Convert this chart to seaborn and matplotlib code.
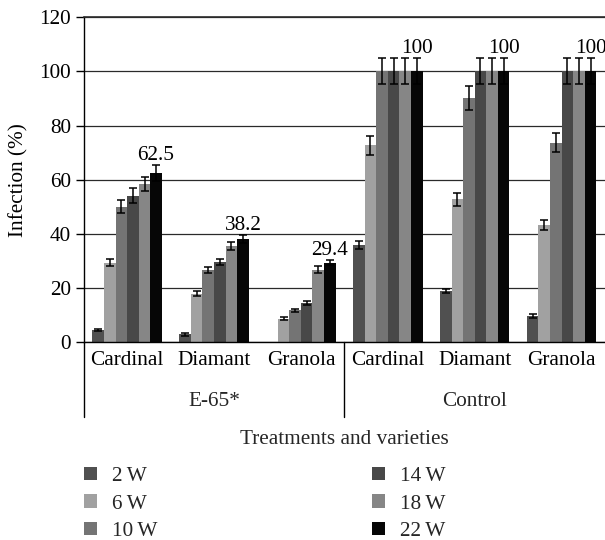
import matplotlib
matplotlib.use("Agg")
import matplotlib.pyplot as plt
import matplotlib.transforms as mtransforms
import seaborn as sns
import pandas as pd

# ---------------- data ----------------
treatments = ["E-65*", "E-65*", "E-65*", "Control", "Control", "Control"]
varieties = ["Cardinal", "Diamant", "Granola", "Cardinal", "Diamant", "Granola"]
weeks = ["2\u2009W", "6\u2009W", "10\u2009W", "14\u2009W", "18\u2009W", "22\u2009W"]

w2 = [4.5, 2.9, 0.0, 35.9, 18.9, 9.7]
w6 = [29.4, 18.0, 8.7, 72.8, 52.9, 43.3]
w10 = [50.0, 26.7, 11.8, 100, 90.2, 73.7]
w14 = [54.2, 29.6, 14.5, 100, 100, 100]
w18 = [58.6, 35.4, 26.8, 100, 100, 100]
w22 = [62.5, 38.2, 29.4, 100, 100, 100]

e2 = [0.4, 0.4, 0.0, 1.5, 0.8, 0.6]
e6 = [1.2, 0.8, 0.5, 3.5, 2.4, 2.0]
e10 = [2.4, 1.0, 0.5, 4.8, 4.5, 3.5]
e14 = [2.6, 1.2, 0.8, 4.8, 4.8, 4.8]
e18 = [2.6, 1.5, 1.2, 4.8, 4.8, 4.8]
e22 = [3.0, 1.5, 1.0, 4.8, 4.8, 4.8]

y_ticks = [0, 20, 40, 60, 80, 100, 120]

series = [w2, w6, w10, w14, w18, w22]
errors = [e2, e6, e10, e14, e18, e22]
colors = ["#505050", "#a1a1a1", "#747474", "#484848", "#868686", "#060606"]

keys = [f"{t}|{v}" for t, v in zip(treatments, varieties)]
rows = []
for wk, vals in zip(weeks, series):
    for k, v in zip(keys, vals):
        rows.append({"group": k, "week": wk, "infection": v})
df = pd.DataFrame(rows)

# ---------------- style ----------------
sns.set_theme(style="white")
plt.rcParams["font.family"] = ["Liberation Serif", "DejaVu Serif"]
FS = 15.3

W, H = 605, 540
fig = plt.figure(figsize=(W / 100, H / 100), dpi=100)
ax_l, ax_r, ax_t, ax_b = 83.7, 605, 17.3, 342.3
ax = fig.add_axes([ax_l / W, (H - ax_b) / H, (ax_r - ax_l) / W, (ax_b - ax_t) / H])

sns.barplot(data=df, x="group", y="infection", hue="week", order=keys,
            hue_order=weeks, palette=colors, width=0.8, saturation=1,
            errorbar=None, ax=ax, linewidth=0)

bar_containers = list(ax.containers)

for cont, errs in zip(bar_containers, errors):
    for bar, er in zip(cont, errs):
        if er > 0:
            ax.errorbar(bar.get_x() + bar.get_width() / 2, bar.get_height(), yerr=er,
                        fmt="none", ecolor="black", elinewidth=1.1, capsize=3.2,
                        capthick=1.1, zorder=5)

# value labels above the 22 W bars
last = bar_containers[-1]
for bar, er in zip(last, errors[-1]):
    v = bar.get_height()
    ax.annotate(f"{v:g}", (bar.get_x() + bar.get_width() / 2, v + er),
                xytext=(0, 0), textcoords="offset points", ha="center", va="bottom",
                fontsize=FS, color="black")

ax.set_ylim(0, 120)
ax.set_xlim(-0.5, 5.5)
ax.set_yticks(y_ticks)
ax.set_yticklabels([str(t) for t in y_ticks])
ax.yaxis.grid(True, color="#2a2a2a", linewidth=0.9)
ax.set_axisbelow(True)
ax.set_xticks(range(len(varieties)))
ax.set_xticklabels(varieties)
ax.tick_params(axis="x", length=0, pad=6.0, labelsize=FS, colors="black")
ax.tick_params(axis="y", length=6, width=1, direction="out", pad=3, labelsize=FS,
               colors="black", left=True)
# top border line at 120 (drawn as the top spine)
ax.spines["right"].set_visible(False)
ax.spines["top"].set_visible(True)
ax.spines["top"].set_color("#2a2a2a")
ax.spines["top"].set_linewidth(1.2)
for s in ["left", "bottom"]:
    ax.spines[s].set_color("black")
    ax.spines[s].set_linewidth(1)
ax.set_xlabel("")
ax.set_ylabel("Infection (%)", fontsize=FS, color="black", labelpad=8)

trans = mtransforms.blended_transform_factory(ax.transData, ax.transAxes)
y_line_bot = (ax_b - 417) / (ax_b - ax_t)
for xv in [-0.5, 2.5]:
    ax.plot([xv, xv], [0, y_line_bot], transform=trans, color="black", lw=1,
            clip_on=False)
y_grp = (ax_b - 401) / (ax_b - ax_t)
ax.text(1, y_grp, "E-65*", transform=trans, ha="center", va="center", fontsize=FS)
ax.text(4, y_grp, "Control", transform=trans, ha="center", va="center", fontsize=FS)
y_xl = (ax_b - 440) / (ax_b - ax_t)
ax.text(0.5, y_xl, "Treatments and varieties", transform=ax.transAxes,
        ha="center", va="center", fontsize=FS)

handles, labels = ax.get_legend_handles_labels()
if ax.get_legend() is not None:
    ax.get_legend().remove()
fig.legend(handles, labels, loc="upper left", bbox_to_anchor=(84 / W, (H - 467) / H),
           ncol=2, frameon=False, fontsize=FS, handlelength=0.6, handleheight=0.6,
           handletextpad=0.72, columnspacing=10.1, labelspacing=0.38, borderpad=0,
           borderaxespad=0)

fig.savefig("out.png", dpi=100)
